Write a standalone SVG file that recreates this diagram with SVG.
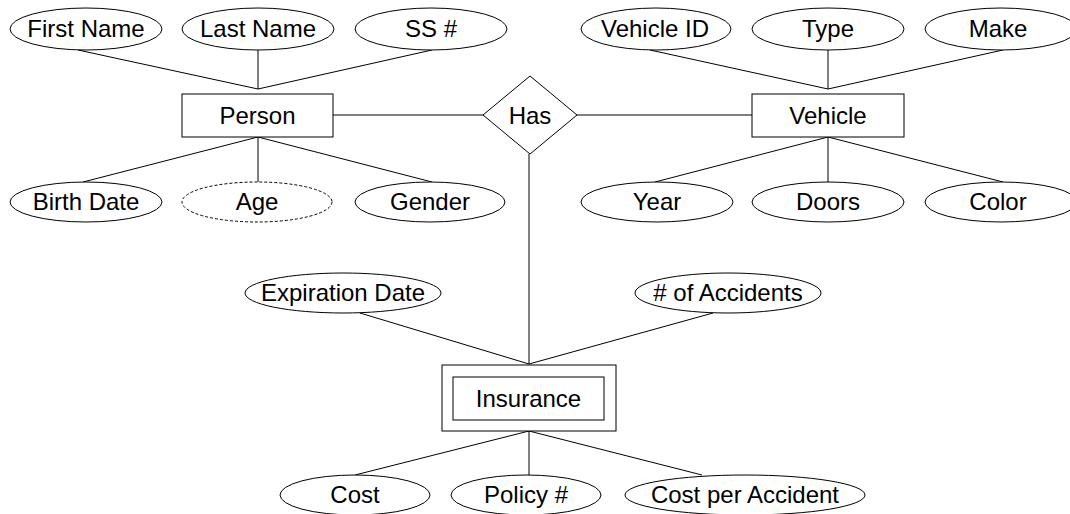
<svg xmlns="http://www.w3.org/2000/svg" width="1070" height="514" viewBox="0 0 1070 514">
<style>
.s{fill:#fff;stroke:#000;stroke-width:1}
.d{stroke-dasharray:3,2}
.t{font-family:"Liberation Sans",Arial,sans-serif;font-size:24px;fill:#000;text-anchor:middle}
.c line{stroke:#000;stroke-width:1}
</style>
<rect width="1070" height="514" fill="#fff"/>
<g id="connectors" class="c">
<line x1="258" y1="89" x2="78" y2="50"/>
<line x1="258" y1="89" x2="258" y2="50"/>
<line x1="258" y1="89" x2="432" y2="50"/>
<line x1="258" y1="137" x2="83" y2="182"/>
<line x1="258" y1="137" x2="258" y2="182"/>
<line x1="258" y1="137" x2="432" y2="182"/>
<line x1="333" y1="115" x2="483" y2="115"/>
<line x1="577" y1="115" x2="752" y2="115"/>
<line x1="828" y1="89" x2="650" y2="50"/>
<line x1="828" y1="89" x2="828" y2="50"/>
<line x1="828" y1="89" x2="1003" y2="50"/>
<line x1="828" y1="137" x2="655" y2="182"/>
<line x1="828" y1="137" x2="828" y2="182"/>
<line x1="828" y1="137" x2="1003" y2="182"/>
<line x1="529" y1="154" x2="529" y2="364"/>
<line x1="529" y1="364" x2="360" y2="313"/>
<line x1="529" y1="364" x2="713" y2="313"/>
<line x1="529" y1="431" x2="355" y2="475"/>
<line x1="529" y1="431" x2="529" y2="475"/>
<line x1="529" y1="431" x2="702" y2="475"/>
</g>
<g id="person"><rect class="s" x="182" y="94" width="151" height="43"/><text class="t" x="257.5" y="124">Person</text></g>
<g id="vehicle"><rect class="s" x="752" y="94" width="152" height="43"/><text class="t" x="828" y="124">Vehicle</text></g>
<g id="has"><polygon class="s" points="483,115 530,76 577,115 530,154"/><text class="t" x="530" y="124">Has</text></g>
<g id="insurance"><rect class="s" x="442" y="365" width="174" height="66"/><rect class="s" x="453" y="377" width="151" height="43"/><text class="t" x="528.5" y="407">Insurance</text></g>
<g id="first-name"><ellipse class="s" cx="86" cy="29" rx="76" ry="21"/><text class="t" x="86" y="37">First Name</text></g>
<g id="last-name"><ellipse class="s" cx="258" cy="29" rx="76" ry="21"/><text class="t" x="258" y="37">Last Name</text></g>
<g id="ss"><ellipse class="s" cx="431" cy="29" rx="76" ry="21"/><text class="t" x="431" y="37">SS #</text></g>
<g id="birth-date"><ellipse class="s" cx="86" cy="202" rx="76" ry="20"/><text class="t" x="86" y="210">Birth Date</text></g>
<g id="age"><ellipse class="s d" cx="257" cy="202" rx="75" ry="20"/><text class="t" x="257" y="210">Age</text></g>
<g id="gender"><ellipse class="s" cx="430" cy="202" rx="75" ry="20"/><text class="t" x="430" y="210">Gender</text></g>
<g id="vehicle-id"><ellipse class="s" cx="656" cy="29" rx="75" ry="21"/><text class="t" x="655" y="37">Vehicle ID</text></g>
<g id="type"><ellipse class="s" cx="828" cy="29" rx="76" ry="21"/><text class="t" x="828" y="37">Type</text></g>
<g id="make"><ellipse class="s" cx="1001" cy="29" rx="76" ry="21"/><text class="t" x="998" y="37">Make</text></g>
<g id="year"><ellipse class="s" cx="657" cy="202" rx="76" ry="20"/><text class="t" x="657" y="210">Year</text></g>
<g id="doors"><ellipse class="s" cx="828" cy="202" rx="76" ry="20"/><text class="t" x="828" y="210">Doors</text></g>
<g id="color"><ellipse class="s" cx="1001" cy="202" rx="76" ry="20"/><text class="t" x="998" y="210">Color</text></g>
<g id="expiration-date"><ellipse class="s" cx="343" cy="293" rx="98" ry="20"/><text class="t" x="343" y="301">Expiration Date</text></g>
<g id="accidents"><ellipse class="s" cx="728" cy="293" rx="93" ry="20"/><text class="t" x="728" y="301"># of Accidents</text></g>
<g id="cost"><ellipse class="s" cx="355" cy="495" rx="75" ry="20"/><text class="t" x="355" y="503">Cost</text></g>
<g id="policy"><ellipse class="s" cx="526" cy="495" rx="75" ry="20"/><text class="t" x="526" y="503">Policy #</text></g>
<g id="cost-per-accident"><ellipse class="s" cx="745" cy="495" rx="120" ry="20"/><text class="t" x="745" y="503">Cost per Accident</text></g>
</svg>
